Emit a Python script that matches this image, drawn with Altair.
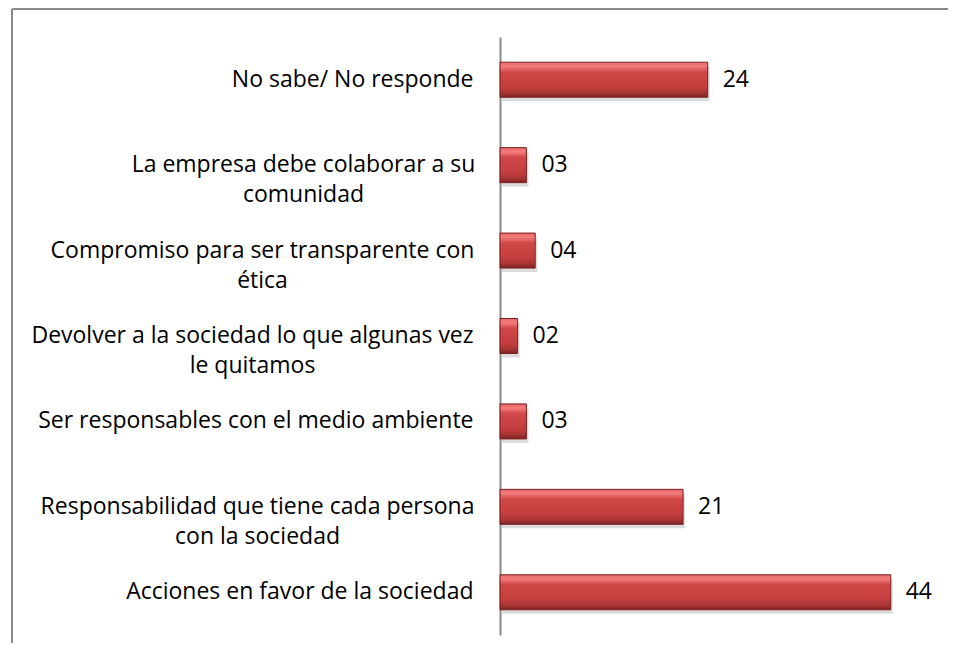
import json
import altair as alt
import pandas as pd

# ---- data ----
categories = [
    "No sabe/ No responde",
    "La empresa debe colaborar a su\ncomunidad",
    "Compromiso para ser transparente con\nética",
    "Devolver a la sociedad lo que algunas vez\nle quitamos",
    "Ser responsables con el medio ambiente",
    "Responsabilidad que tiene cada persona\ncon la sociedad",
    "Acciones en favor de la sociedad",
]
values = [23.6, 3.0, 4.0, 2.0, 3.0, 20.8, 44.4]

df = pd.DataFrame({"cat": categories, "value": values})

# ---- styling ----
FONT = "Open Sans"
FS = 23
W, H = 440, 598
GRAY = "#8a8a8a"

# multi-line labels are centred as a block (Excel style)
multi_pad = {categories[1]: 197, categories[2]: 238, categories[3]: 248, categories[5]: 243}
pad_conds = [{"test": f"datum.value === {json.dumps(c)}", "value": p} for c, p in multi_pad.items()]
multi_test = " || ".join(f"datum.value === {json.dumps(c)}" for c in multi_pad)

yenc = alt.Y(
    "cat:N",
    sort=categories,
    title=None,
    scale=alt.Scale(paddingInner=0, paddingOuter=0),
    axis=alt.Axis(
        labelExpr="split(datum.value, '\\n')",
        domain=True,
        domainColor=GRAY,
        domainWidth=2,
        ticks=False,
        grid=False,
        labelFont=FONT,
        labelFontSize=FS,
        labelColor="#000000",
        labelLineHeight=30,
        labelLimit=700,
        labelBaseline="middle",
        labelAlign={"condition": {"test": multi_test, "value": "center"}, "value": "right"},
        labelPadding={"condition": pad_conds, "value": 27},
    ),
)
xenc = alt.X("value:Q", scale=alt.Scale(domain=[0, 50], nice=False, zero=True), axis=None)

grad = alt.LinearGradient(
    gradient="linear",
    x1=0, x2=0, y1=0, y2=1,
    stops=[
        alt.GradientStop(color="#e86868", offset=0),
        alt.GradientStop(color="#f27c7c", offset=0.12),
        alt.GradientStop(color="#d04848", offset=0.28),
        alt.GradientStop(color="#c33e3e", offset=0.7),
        alt.GradientStop(color="#a83434", offset=0.88),
        alt.GradientStop(color="#7c2222", offset=1),
    ],
)

base = alt.Chart(df)

shadow = base.mark_bar(size=35, color="#9a9a9a", opacity=0.35, xOffset=2, yOffset=4).encode(
    x=xenc, y=yenc
)
bars = base.mark_bar(size=35, color=grad, stroke="#7a2020", strokeWidth=1).encode(x=xenc, y=yenc)
labels = base.mark_text(
    align="left", baseline="middle", dx=15, font=FONT, fontSize=FS, color="#000000"
).encode(x=xenc, y=yenc, text=alt.Text("value:Q", format="02.0f"))

PAD_R = 8
frame_df = pd.DataFrame({"k": [0]})
frame_top = alt.Chart(frame_df).mark_rule(color=GRAY, strokeWidth=2).encode(
    x=alt.value(-488), x2=alt.value(W + PAD_R), y=alt.value(-28)
)
frame_left = alt.Chart(frame_df).mark_rule(color=GRAY, strokeWidth=2).encode(
    x=alt.value(-488), y=alt.value(-28), y2=alt.value(H + 8)
)

chart = (
    alt.layer(shadow, bars, labels, frame_top, frame_left)
    .properties(
        width=W,
        height=H,
        autosize=alt.AutoSizeParams(type="none"),
        padding={"left": 492, "top": 29, "right": PAD_R, "bottom": 8},
        background="#ffffff",
    )
    .configure_view(strokeWidth=0)
)

chart.save("out.html", embed_options={"renderer": "svg", "actions": False})
